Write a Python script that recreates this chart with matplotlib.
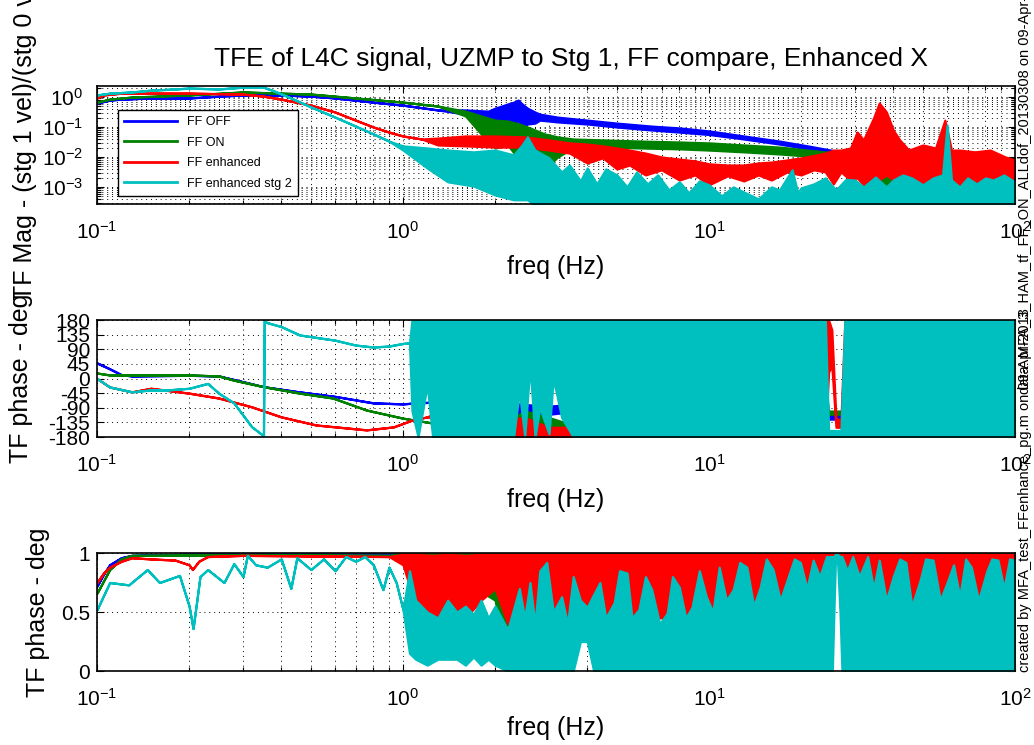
import numpy as np
import matplotlib
matplotlib.use('Agg')
import matplotlib.pyplot as plt
from matplotlib.lines import Line2D
from matplotlib.ticker import LogLocator

plt.rcParams['font.family'] = ['Liberation Sans', 'DejaVu Sans']
plt.rcParams['mathtext.default'] = 'regular'
plt.rcParams['axes.unicode_minus'] = False

# colours of the four runs (MATLAB defaults)
C_OFF = (0, 0, 1)
C_ON = (0, 0.5, 0)
C_ENH = (1, 0, 0)
C_STG2 = (0, 0.75, 0.75)
labels = ['FF OFF', 'FF ON', 'FF enhanced', 'FF enhanced stg 2']

# ---- TF magnitude, stored as log10(|TF|), lo / hi envelope (equal where the trace is clean)
mag_off_f = [0.1, 0.11, 0.12, 0.15, 0.2, 0.25, 0.3, 0.4, 0.5, 0.6, 0.8, 1.0, 1.3, 1.6, 1.9, 2.0, 2.1, 2.2, 2.3, 2.38,
             2.45, 2.55, 2.7, 2.8, 3.2, 4, 5, 6.5, 8, 10, 13, 17, 21, 25, 28, 31, 40, 55, 70, 85, 100]
mag_off_hi = [-0.2, -0.1, -0.07, -0.03, -0.03, 0.03, 0.07, 0.07, 0.03, -0.03, -0.17, -0.27, -0.43, -0.43, -0.47, -0.37,
              -0.3, -0.23, -0.17, -0.1, -0.23, -0.37, -0.5, -0.57, -0.67, -0.77, -0.87, -0.97, -1.03, -1.13, -1.3,
              -1.47, -1.63, -1.77, -1.87, -1.93, -2.27, -2.37, -2.27, -2.37, -2.43]
mag_off_lo = [-0.2, -0.1, -0.07, -0.03, -0.03, 0.03, 0.07, 0.07, 0.03, -0.03, -0.17, -0.27, -0.43, -0.57, -0.7, -0.77,
              -0.9, -0.83, -0.93, -0.77, -1.03, -0.9, -0.87, -0.77, -0.83, -0.9, -1.0, -1.1, -1.17, -1.25, -1.4,
              -1.57, -1.73, -1.87, -2.0, -2.43, -3.1, -3.17, -3.1, -3.17, -3.27]

mag_on_f = [0.1, 0.11, 0.13, 0.2, 0.3, 0.4, 0.5, 0.7, 1.0, 1.3, 1.6, 1.8, 2.0, 2.2, 2.4, 2.6, 2.9, 3.2, 3.6, 4.5,
            6, 8, 10, 13, 17, 21, 26, 30, 40, 60, 80, 100]
mag_on_hi = [-0.17, -0.07, 0, 0.07, 0.17, 0.13, 0.1, -0.03, -0.17, -0.3, -0.47, -0.63, -0.77, -0.8, -0.9, -1.03,
             -1.23, -1.33, -1.4, -1.43, -1.47, -1.5, -1.53, -1.6, -1.67, -1.77, -1.87, -1.97, -2.17, -2.2, -2.1, -2.27]
mag_on_lo = [-0.17, -0.07, 0, 0.07, 0.17, 0.13, 0.1, -0.03, -0.17, -0.3, -0.63, -1.23, -1.7, -1.6, -2.1, -1.83,
             -2.43, -2.0, -1.7, -1.67, -1.7, -1.73, -1.77, -1.83, -1.9, -1.97, -2.07, -2.6, -3.1, -3.03, -3.17, -3.1]

mag_enh_f = [0.1, 0.105, 0.12, 0.2, 0.3, 0.35, 0.4, 0.5, 0.6, 0.7, 0.8, 0.9, 1.0, 1.15, 1.3, 1.6, 2.0, 2.5, 3.0, 3.5,
             4.0, 4.5, 5.0, 5.5, 6.2, 7, 8, 9, 10, 11.5, 13, 14.5, 16, 18, 20, 22, 24, 25.5, 27, 29,
             30.5, 32, 34.5, 36, 38, 40, 42, 45, 50, 55, 59, 62, 66, 74, 83, 93, 100]
mag_enh_hi = [-0.03, 0.07, 0.13, 0.13, 0.1, 0.03, -0.07, -0.27, -0.5, -0.77, -1.0, -1.17, -1.3, -1.4, -1.37, -1.3,
              -1.3, -1.33, -1.43, -1.53, -1.57, -1.63, -1.7, -1.77, -1.87, -2.0, -2.07, -2.13, -2.23, -2.27, -2.27,
              -2.2, -2.17, -2.1, -2.03, -1.95, -1.87, -1.77, -1.77, -1.7,
              -1.17, -1.43, -0.7, -0.2, -0.5, -1.1, -1.43, -1.77, -1.6, -1.7, -0.77, -1.77, -1.77, -1.83,
              -1.77, -2.0, -2.1]
mag_enh_lo = [-0.03, 0.07, 0.13, 0.13, 0.1, 0.03, -0.07, -0.27, -0.5, -0.77, -1.0, -1.17, -1.3, -1.4, -1.6, -1.63,
              -1.67, -1.67, -1.77, -1.87, -2.2, -2.03, -2.4, -2.27, -2.6, -2.43, -2.77, -2.6, -2.93, -2.63, -2.8,
              -2.6, -2.77, -2.5, -2.6, -2.43, -2.5, -2.9, -2.5, -2.77,
              -2.7, -2.93, -2.7, -2.77, -2.6, -2.77, -2.93, -2.77, -3.03, -2.93, -2.93, -2.93, -3.03, -3.1,
              -2.93, -3.03, -2.83]

mag_stg2_f = [0.1, 0.11, 0.13, 0.15, 0.18, 0.2, 0.25, 0.3, 0.35, 0.38, 0.43, 0.5, 0.6, 0.7, 0.8, 0.9, 1.0, 1.2, 1.4,
              1.7, 2.0, 2.3, 2.45, 2.55, 2.7, 3.0, 3.3, 3.5, 3.8, 4.0, 4.3, 4.6, 5, 5.4, 5.8, 6.3, 6.8, 7.4, 8,
              8.6, 9.3, 10, 11, 12, 13, 14.5, 16, 17, 18.7, 19.5, 20, 22, 24, 26, 28, 30, 32, 35, 38, 40,
              43, 46, 50, 54, 58, 60, 62, 66, 70, 75, 80, 85, 92, 100]
mag_stg2_hi = [0.07, 0.13, 0.17, 0.23, 0.27, 0.3, 0.27, 0.33, 0.33, 0.2, -0.03, -0.33, -0.67, -0.97, -1.23, -1.47,
               -1.63, -1.7, -1.77, -1.83, -1.77, -1.93, -1.6, -1.33, -1.77, -2.03, -2.5, -2.27, -2.8, -2.37, -2.9,
               -2.4, -2.6, -3.0, -2.5, -2.9, -2.6, -3.1, -2.83, -3.2, -2.8, -2.93, -3.3, -3.0, -3.17, -3.4, -3.0,
               -3.1, -2.43, -3.2, -3.03, -2.9, -2.7, -3.1, -2.75, -2.77, -3.0, -2.67, -3.0, -2.77,
               -2.6, -2.7, -2.93, -2.7, -2.6, -0.93, -2.77, -3.0, -2.7, -2.9, -2.7, -2.77, -2.6, -2.83]
mag_stg2_lo = [0.07, 0.13, 0.17, 0.23, 0.27, 0.3, 0.27, 0.33, 0.33, 0.2, -0.03, -0.33, -0.67, -0.97, -1.23, -1.47,
               -1.77, -2.37, -2.83, -2.97, -3.27, -3.43, -3.43, -3.43, -3.6, -3.77, -3.77, -3.77, -3.77, -3.77,
               -3.77, -3.77, -3.77, -3.77, -3.77, -3.77, -3.77, -3.77, -3.77, -3.77, -3.77, -3.77, -3.77, -3.77,
               -3.77, -3.77, -3.77, -3.77, -3.77, -3.77, -3.77, -3.77, -3.77, -3.77, -3.77, -3.77, -3.77, -3.77,
               -3.77, -3.77, -3.77, -3.77, -3.77, -3.77, -3.77, -3.77, -3.77, -3.77, -3.77, -3.77, -3.77, -3.77,
               -3.77, -3.77]

# ---- TF phase (deg)
ph_off_f = [0.1, 0.11, 0.12, 0.13, 0.2, 0.25, 0.28, 0.35, 0.45, 0.6, 0.8, 1.0, 1.1, 1.3, 1.5, 2.0, 2.5, 3.0, 3.5,
            4.0, 4.5, 10, 23.5, 24.5, 27.5, 28.5, 100]
ph_off_lo = [48, 30, 12, 8, 10, 8, -3, -25, -40, -55, -75, -78, -75, -72, -85, -110, -115, -110, -103, -100,
             -180, -180, -180, -125, -125, -180, -180]
ph_off_hi = [48, 30, 12, 8, 10, 8, -3, -25, -40, -55, -75, -78, -75, -72, -65, -70, -80, -85, -80, -80,
             180, 180, 180, -105, -105, 180, 180]

ph_on_f = [0.1, 0.11, 0.2, 0.25, 0.28, 0.35, 0.46, 0.59, 0.76, 1.0, 1.25, 1.6, 2.0, 2.5, 3.0, 3.5, 4.0, 4.5, 10,
           23.5, 24.5, 27.5, 28.5, 100]
ph_on_lo = [17, 11, 11, 8, -5, -25, -45, -60, -97, -122, -137, -165, -175, -180, -180, -180, -175, -180, -180,
            -180, -110, -110, -180, -180]
ph_on_hi = [17, 11, 11, 8, -5, -25, -45, -60, -97, -122, -137, -150, -155, -100, -120, -140, -150, 180, 180,
            180, -100, -100, 180, 180]

ph_enh_f = [0.1, 0.11, 0.13, 0.15, 0.2, 0.25, 0.32, 0.4, 0.52, 0.76, 0.93, 1.07, 1.2, 1.3, 1.5, 2.0, 2.5, 3.0, 3.5,
            4.0, 4.5, 10, 24.0, 24.6, 25.2, 26.0, 27.0, 27.8, 100]
ph_enh_lo = [0, -26, -41, -30, -45, -60, -87, -118, -143, -158, -149, -128, -118, -125, -160, -175, -180, -180,
             -180, -180, -180, -180, -180, 20, 40, -150, -150, -180, -180]
ph_enh_hi = [0, -26, -41, -30, -45, -60, -87, -118, -143, -158, -149, -128, -118, -100, -120, -130, -120, -150,
             -150, -150, 180, 180, 180, 180, 150, -125, -125, 180, 180]

ph_stg2_f = [0.1, 0.11, 0.13, 0.15, 0.17, 0.2, 0.23, 0.25, 0.28, 0.32, 0.35, 0.352, 0.36, 0.4, 0.46, 0.6, 0.7, 0.8,
             0.9, 1.0, 1.05, 1.07, 1.12, 1.2, 1.25, 2.3, 2.4, 2.5, 2.6, 2.7, 2.8, 3.0, 3.1, 3.3, 3.6,
             24.0, 24.6, 27.0, 27.8, 100]
ph_stg2_lo = [0, -26, -41, -35, -35, -30, -15, -45, -75, -148, -176, 178, 172, 160, 134, 118, 103, 97, 100, 108,
              110, -100, -180, -20, -180, -180, -40, -180, 40, -180, -90, -170, 0, -120, -180,
              -180, -180, -180, -180, -180]
ph_stg2_hi = [0, -26, -41, -35, -35, -30, -15, -45, -75, -148, -176, 178, 172, 160, 134, 118, 103, 97, 100, 108,
              110, 180, 180, 180, 180, 180, 180, 180, 180, 180, 180, 180, 180, 180, 180,
              180, -160, -160, 180, 180]

# ---- coherence
coh_off_f = [0.1, 0.105, 0.11, 0.12, 0.13, 0.2, 0.5, 0.9, 1.0, 1.5, 2.0, 2.2, 2.6, 3.0, 10, 25.0, 25.6, 27.0, 27.6, 100]
coh_off_lo = [0.72, 0.82, 0.9, 0.96, 0.98, 0.99, 0.99, 0.99, 0.97, 0.85, 0.8, 0.05, 0.55, 0.85, 0.85, 0.85, 0.99,
              0.99, 0.85, 0.85]
coh_off_hi = [0.72, 0.82, 0.9, 0.96, 0.98, 0.99, 0.99, 0.99, 1.0, 1.0, 1.0, 1.0, 1.0, 1.0, 1.0, 1.0, 1.0, 1.0, 1.0, 1.0]

coh_on_f = [0.1, 0.11, 0.12, 0.13, 0.3, 0.9, 1.0, 1.5, 2.0, 2.2, 2.6, 3.0, 10, 25.0, 25.6, 27.0, 27.6, 100]
coh_on_lo = [0.66, 0.86, 0.95, 0.98, 0.985, 0.98, 0.95, 0.8, 0.6, 0.02, 0.4, 0.85, 0.85, 0.85, 0.99, 0.99, 0.85, 0.85]
coh_on_hi = [0.66, 0.86, 0.95, 0.98, 0.985, 0.98, 1, 1, 1, 1, 1, 1, 1, 1, 1, 1, 1, 1]

coh_enh_f = [0.1, 0.105, 0.11, 0.12, 0.13, 0.15, 0.18, 0.2, 0.205, 0.215, 0.23, 0.3, 0.9, 1.0, 1.1, 1.25, 1.4, 1.6,
             1.8, 2.0, 2.2, 2.5, 3.0, 10, 25.0, 25.6, 27.0, 27.6, 100]
coh_enh_lo = [0.75, 0.83, 0.88, 0.93, 0.96, 0.95, 0.94, 0.9, 0.86, 0.93, 0.97, 0.98, 0.97, 0.9, 0.55, 0.3, 0.55,
              0.45, 0.6, 0.7, 0.4, 0.45, 0.45, 0.45, 0.45, 0.985, 0.985, 0.45, 0.45]
coh_enh_hi = [0.75, 0.83, 0.88, 0.93, 0.96, 0.95, 0.94, 0.9, 0.86, 0.93, 0.97, 0.98, 0.97, 0.99, 0.99, 0.98, 0.99,
              0.98, 0.99, 0.99, 0.99, 0.99, 0.99, 0.99, 0.99, 0.99, 0.99, 0.99, 0.99]

coh_stg2_f = [0.1, 0.11, 0.127, 0.146, 0.16, 0.186, 0.2, 0.206, 0.212, 0.217, 0.23, 0.26, 0.28, 0.3, 0.31, 0.33,
              0.36, 0.4, 0.43, 0.45, 0.5, 0.55, 0.6, 0.65, 0.7, 0.75, 0.8, 0.86, 0.9, 0.95, 1.0,
              1.05, 1.1, 1.2, 1.3, 1.4, 1.5, 1.6, 1.7, 1.8, 1.9, 2.0, 2.2,
              2.4, 2.5, 2.6, 2.7, 2.8, 2.95, 3.1, 3.3, 3.45, 3.6, 3.8, 4.0, 4.2, 4.4, 4.6, 4.9, 5.1, 5.4, 5.6,
              5.9, 6.2, 6.5, 6.9, 7.3, 7.6, 8.0, 8.4, 8.8, 9.3, 9.8, 10.3, 10.8, 11.4, 12.0, 12.6, 13.3, 14.0,
              14.7, 15.4, 16.2, 17.1, 18.0, 19.0, 19.9, 20.9, 21.9, 23.0, 24.2, 25.3, 25.6, 25.9, 26.3, 26.8,
              27.2, 28.3, 29.5, 31, 33, 34.5, 36, 38, 40, 42, 44, 46, 49, 51, 54, 57, 60, 63, 66, 69, 72, 76,
              81, 84, 88, 92, 96, 100]
coh_stg2_lo = [0.52, 0.75, 0.73, 0.86, 0.75, 0.81, 0.55, 0.36, 0.6, 0.8, 0.86, 0.75, 0.91, 0.8, 0.98, 0.9,
               0.88, 0.95, 0.7, 0.96, 0.86, 0.95, 0.85, 0.97, 0.93, 0.97, 0.9, 0.69, 0.88, 0.75, 0.52,
               0.15, 0.1, 0.05, 0.1, 0.1, 0.1, 0.05, 0.12, 0.05, 0.1, 0.05, 0.0,
               0, 0, 0, 0, 0, 0, 0, 0, 0, 0, 0.25, 0.25, 0, 0, 0, 0, 0, 0, 0,
               0, 0, 0, 0, 0, 0, 0, 0, 0, 0, 0, 0, 0, 0, 0, 0, 0, 0,
               0, 0, 0, 0, 0, 0, 0, 0, 0, 0, 0, 0, 0.5, 0.94, 0.94, 0.5,
               0, 0, 0, 0, 0, 0, 0, 0, 0, 0, 0, 0, 0, 0, 0, 0, 0, 0, 0, 0, 0, 0,
               0, 0, 0, 0, 0, 0]
coh_stg2_hi = [0.52, 0.75, 0.73, 0.86, 0.75, 0.81, 0.55, 0.36, 0.6, 0.8, 0.86, 0.75, 0.91, 0.8, 0.98, 0.9,
               0.88, 0.95, 0.7, 0.96, 0.86, 0.95, 0.85, 0.97, 0.93, 0.97, 0.9, 0.69, 0.88, 0.75, 0.52,
               0.85, 0.6, 0.5, 0.45, 0.6, 0.5, 0.55, 0.48, 0.6, 0.45, 0.55, 0.35,
               0.7, 0.45, 0.75, 0.4, 0.85, 0.92, 0.5, 0.63, 0.4, 0.8, 0.6, 0.54, 0.65, 0.75, 0.45, 0.58, 0.85,
               0.83, 0.45, 0.52, 0.8, 0.69, 0.4, 0.49, 0.8, 0.71, 0.45, 0.54, 0.85, 0.63, 0.5, 0.88, 0.6, 0.69,
               0.92, 0.88, 0.55, 0.71, 0.95, 0.86, 0.6, 0.77, 0.95, 0.92, 0.7, 0.94, 0.8, 0.97, 0.97, 0.97,
               0.99, 0.99, 0.97, 0.97, 0.85, 0.97, 0.8, 0.97, 0.7, 0.94, 0.6, 0.8, 0.95, 0.92, 0.55, 0.77,
               0.95, 0.94, 0.6, 0.75, 0.9, 0.63, 0.95, 0.88, 0.6, 0.85, 0.95, 0.94, 0.7, 0.95, 0.94]


def trace(ax, f, lo, hi, color, log=False):
    lo = np.asarray(lo, float)
    hi = np.asarray(hi, float)
    if log:
        lo, hi = 10 ** lo, 10 ** hi
    ax.fill_between(f, lo, hi, facecolor=color, edgecolor=color, lw=1.6, joinstyle='round')


def style(ax, ypad):
    ax.set_xscale('log')
    ax.set_xlim(0.1, 100)
    ax.set_axisbelow(True)
    ax.tick_params(which='both', direction='in', top=True, right=True, labelsize=15, width=0.8)
    ax.tick_params(which='major', length=5)
    ax.tick_params(which='minor', length=3)
    ax.tick_params(axis='x', pad=12)
    ax.tick_params(axis='y', pad=ypad)
    ax.grid(True, which='both', axis='x', color='k', ls=(0, (1, 4)), lw=0.7)
    for s in ax.spines.values():
        s.set_linewidth(1.2)
    ax.set_xlabel('freq (Hz)', fontsize=18)


fig = plt.figure(figsize=(10.34, 7.45), dpi=100)
ax1 = fig.add_axes([0.0938, 0.7262, 0.8878, 0.1584])
ax2 = fig.add_axes([0.0938, 0.4134, 0.8878, 0.1570])
ax3 = fig.add_axes([0.0938, 0.0993, 0.8878, 0.1584])

cols = [C_OFF, C_ON, C_ENH, C_STG2]

# magnitude
for f, lo, hi, c in [(mag_off_f, mag_off_lo, mag_off_hi, C_OFF), (mag_on_f, mag_on_lo, mag_on_hi, C_ON),
                     (mag_enh_f, mag_enh_lo, mag_enh_hi, C_ENH), (mag_stg2_f, mag_stg2_lo, mag_stg2_hi, C_STG2)]:
    trace(ax1, f, lo, hi, c, log=True)
style(ax1, 10)
ax1.set_yscale('log')
ax1.set_ylim(10 ** -3.57, 10 ** 0.37)
ax1.yaxis.set_major_locator(LogLocator(base=10, numticks=12))
ax1.yaxis.set_minor_locator(LogLocator(base=10, subs=np.arange(2, 10), numticks=12))
ax1.grid(True, which='both', axis='y', color='k', ls=(0, (1, 4)), lw=0.7)
ax1.set_ylabel('TF Mag - (stg 1 vel)/(stg 0 vel)', fontsize=18)
ax1.yaxis.set_label_coords(-0.0654, 0.605)
ax1.xaxis.set_label_coords(0.5, -0.43)
handles = [Line2D([], [], color=c, lw=2) for c in cols]
leg = ax1.legend(handles, labels, loc='upper left', bbox_to_anchor=(0.0229, 0.797), fontsize=9,
                 fancybox=False, edgecolor='k', framealpha=1, handlelength=4.2, labelspacing=0.68,
                 borderpad=0.5, borderaxespad=0)
leg.get_frame().set_linewidth(1.0)

# phase
for f, lo, hi, c in [(ph_off_f, ph_off_lo, ph_off_hi, C_OFF), (ph_on_f, ph_on_lo, ph_on_hi, C_ON),
                     (ph_enh_f, ph_enh_lo, ph_enh_hi, C_ENH), (ph_stg2_f, ph_stg2_lo, ph_stg2_hi, C_STG2)]:
    trace(ax2, f, lo, hi, c)
style(ax2, 5)
ax2.set_ylim(-180, 180)
ax2.set_yticks([-180, -135, -90, -45, 0, 45, 90, 135, 180])
ax2.grid(True, which='major', axis='y', color='k', ls=(0, (1, 4)), lw=0.7)
ax2.set_ylabel('TF phase - deg', fontsize=18)
ax2.yaxis.set_label_coords(-0.0697, 0.5)
ax2.xaxis.set_label_coords(0.5, -0.436)

# coherence
for f, lo, hi, c in [(coh_off_f, coh_off_lo, coh_off_hi, C_OFF), (coh_on_f, coh_on_lo, coh_on_hi, C_ON),
                     (coh_enh_f, coh_enh_lo, coh_enh_hi, C_ENH), (coh_stg2_f, coh_stg2_lo, coh_stg2_hi, C_STG2)]:
    trace(ax3, f, lo, hi, c)
style(ax3, 5)
ax3.set_ylim(0, 1)
ax3.set_yticks([0, 0.5, 1])
ax3.set_yticklabels(['0', '0.5', '1'])
ax3.grid(True, which='major', axis='y', color='k', ls=(0, (1, 4)), lw=0.7)
ax3.set_ylabel('TF phase - deg', fontsize=18)
ax3.yaxis.set_label_coords(-0.0512, 0.5)
ax3.xaxis.set_label_coords(0.5, -0.38)

fig.text(0.5527, 1 - 59 / 745, 'TFE of L4C signal, UZMP to Stg 1, FF compare, Enhanced X',
         ha='center', va='center', fontsize=19)

# stamps down the right edge (overlapping, as in the original)
fig.text(0.9913, 1 - 672 / 745, 'created by MFA_test_FFenhance_pg.m on 09-Apr-2013',
         rotation=90, ha='center', va='bottom', fontsize=10.5)
fig.text(0.9913, 1.05, 'data: MFA_3_HAM_tf_FF_ON_ALLdof_20130308 on 09-Apr-2013',
         rotation=90, ha='center', va='top', fontsize=10.5)

fig.savefig('out.png', dpi=100)
